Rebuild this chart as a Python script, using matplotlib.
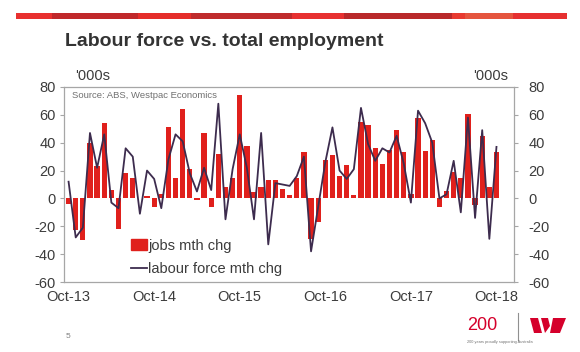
import matplotlib.pyplot as plt
import matplotlib.patches as mpatches
from matplotlib.lines import Line2D
import numpy as np

plt.rcParams['font.family'] = ['Liberation Sans', 'DejaVu Sans']
plt.rcParams['axes.unicode_minus'] = False

# monthly changes, Oct-13 .. Oct-18 ('000s)
jobs = [-4, -23, -30, 40, 23, 54, 6, -22, 18, 15, 0.5, 2, -6, 3, 51, 15, 64, 21, -1, 47,
        -6, 32, 8, 15, 74, 38, 4.5, 8, 13, 13, 6.5, 2.5, 15, 33, -29, -17, 27.5, 31, 16, 24,
        2.5, 55, 53, 36, 25, 35, 49, 33, 3, 58, 34, 42, -6.5, 5, 19, 15, 60.5, -5, 45, 8, 33.5]
labour = [12, -28, -21, 47, 22, 46, -3, -7, 36, 30, -11, 20, 14, -7, 28, 46, 41, 18, 5, 22,
          6, 68, -15, 21, 46, 22, -15, 47, -33, 11, 10, 9, 16, 30, -38, -6, 26, 51, 20, 14,
          21, 65, 39, 27, 36, 33, 45, 25, -3, 63, 54, 40, 0, 3, 27, -10, 58, -14, 49, -29, 37]
tick_labels = ['Oct-13', 'Oct-14', 'Oct-15', 'Oct-16', 'Oct-17', 'Oct-18']
y_ticks = [-60, -40, -20, 0, 20, 40, 60, 80]

RED = '#e0201c'
LINE = '#3d2c4e'
TXT = '#3c3c3c'
GRID = '#a6a6a6'

W, H = 580, 352
fig = plt.figure(figsize=(W / 100, H / 100), dpi=100)

def fx(px):
    return px / W

def fy(py):
    return 1 - py / H

# red banner across the top
seg_x = [15.6, 52, 137.5, 191.4, 291.8, 343.9, 451.7, 464.7, 513, 567]
seg_c = ['#e8302f', '#c0282a', '#e52d2a', '#bf2b2c', '#e73131', '#b9292a', '#e83a30', '#e5553e', '#e63030']
for i in range(len(seg_c)):
    fig.patches.append(mpatches.Rectangle((fx(seg_x[i]), fy(19)), fx(seg_x[i + 1] - seg_x[i]), 6 / H,
                                          transform=fig.transFigure, color=seg_c[i], lw=0))

fig.text(fx(65), fy(42), 'Labour force vs. total employment', fontsize=14, fontweight='bold',
         color='#333333', ha='left', va='center')

ax = fig.add_axes([fx(64.3), fy(282), fx(514.3 - 64.3), (282 - 87) / H])
x = np.arange(len(jobs))
ax.bar(x, jobs, width=0.74, color=RED, zorder=2)
ax.plot(x, labour, color=LINE, lw=1.3, zorder=3)

ax.set_xlim(-0.6, 62.5)
ax.set_ylim(-60, 80)
ax.set_yticks(y_ticks)
ax.set_xticks([0, 12, 24, 36, 48, 60])
ax.set_xticklabels(tick_labels)
ax.tick_params(axis='x', length=0, pad=6, labelsize=10.5, labelcolor=TXT)
ax.tick_params(axis='y', length=3, width=0.8, color=GRID, pad=3, labelsize=10.5, labelcolor=TXT)
for s in ax.spines.values():
    s.set_color(GRID)
    s.set_linewidth(0.9)

ax2 = ax.twinx()
ax2.set_ylim(-60, 80)
ax2.set_yticks(y_ticks)
ax2.tick_params(axis='y', length=3, width=0.8, color=GRID, pad=7, labelsize=10.5, labelcolor=TXT)
for s in ax2.spines.values():
    s.set_visible(False)

fig.text(fx(75), fy(76), "'000s", fontsize=10.5, color=TXT, ha='left', va='center')
fig.text(fx(508), fy(76), "'000s", fontsize=10.5, color=TXT, ha='right', va='center')
ax.text(fx(72 - 64.3) / fx(450), 0.955, 'Source: ABS, Westpac Economics', transform=ax.transAxes,
        fontsize=6.8, color='#707070', ha='left', va='center')

handles = [mpatches.Patch(color=RED), Line2D([], [], color=LINE, lw=1.3)]
ax.legend(handles, ['jobs mth chg', 'labour force mth chg'], loc='lower left',
          bbox_to_anchor=(0.118, -0.035), frameon=False, fontsize=10.5, handlelength=1.1,
          handletextpad=0.1, labelspacing=0.62, labelcolor=TXT)

# footer
fig.text(fx(66), fy(336), '5', fontsize=6, color='#808080', ha='left', va='center')
fig.text(fx(467), fy(326), '200', fontsize=13, color='#d5002b', ha='left', va='center')
fig.lines.append(Line2D([fx(518), fx(518)], [fy(313), fy(340)], transform=fig.transFigure,
                        color='#909090', lw=0.8))
w_shapes = [[(530, 318), (538, 318), (542, 333), (534, 333)],
            [(541, 318), (548, 318), (550, 326), (545, 333)],
            [(553, 318), (566, 318), (560, 333), (550, 333)]]
for pts in w_shapes:
    fig.patches.append(mpatches.Polygon([(fx(a), fy(b)) for a, b in pts], closed=True,
                                        transform=fig.transFigure, color='#d5002b', lw=0))
fig.text(fx(467), fy(342), '200 years proudly supporting Australia', fontsize=2.8,
         color='#707070', ha='left', va='center')

fig.savefig('out.png', dpi=100, facecolor='white')
